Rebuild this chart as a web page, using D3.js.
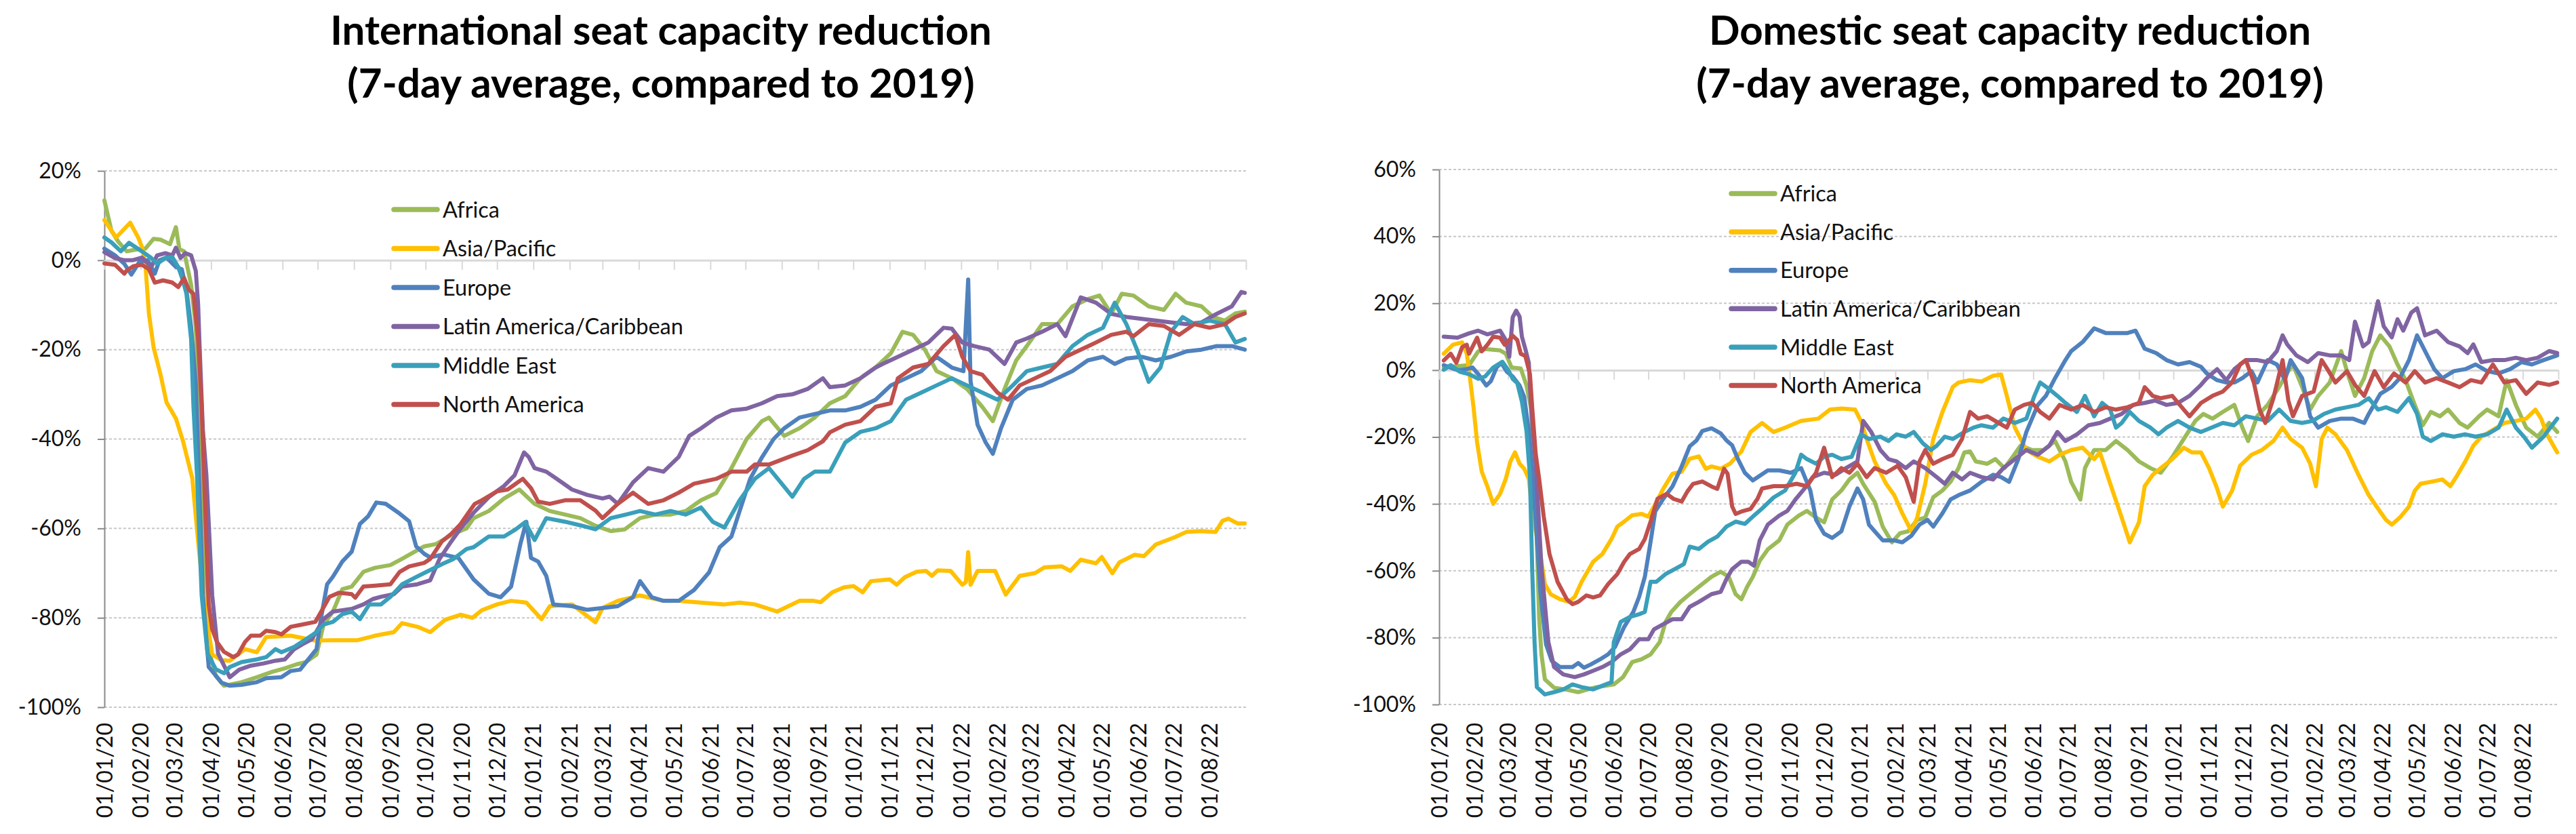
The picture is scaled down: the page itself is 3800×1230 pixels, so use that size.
<!DOCTYPE html>
<html>
<head>
<meta charset="utf-8">
<script src="https://cdn.jsdelivr.net/npm/d3@7"></script>
<style>
  html, body { margin: 0; padding: 0; background: #ffffff; }
  svg { display: block; }
</style>
</head>
<body>
<svg id="chart" width="3800" height="1230"></svg>
<script>
// ---------------- DATA ----------------
// Series are [days since 01/01/2020, % change vs 2019 (7-day average)]
const regions = ["Africa", "Asia/Pacific", "Europe", "Latin America/Caribbean", "Middle East", "North America"];
const regionColors = ["#9BBB59", "#FFC000", "#4F81BD", "#8064A2", "#3A9FBA", "#C0504D"];

const titleIntl = ["International seat capacity reduction", "(7-day average, compared to 2019)"];
const titleDom = ["Domestic seat capacity reduction", "(7-day average, compared to 2019)"];

const yTicksIntl = [20, 0, -20, -40, -60, -80, -100];
const yTicksDom = [60, 40, 20, 0, -20, -40, -60, -80, -100];

const axisStart = "2020-01-01";
const axisEnd = "2022-09-01";
const tickLabelFormat = "%d/%m/%y";

const intlAfrica = [[0,13.4],[6,6.6],[12,4.1],[19,2],[27,2.4],[35,2.6],[42,4.8],[48,4.6],[56,3.6],[61,7.4],[64,2.5],[68,2],[74,-5.5],[78,-15],[82,-40],[86,-70],[90,-88],[95,-93],[102,-95.2],[117,-94.4],[130,-93.3],[143,-92.1],[154,-91.3],[164,-90.4],[172,-89.9],[181,-88.2],[187,-81.5],[195,-78.6],[203,-73.6],[211,-73],[221,-69.7],[231,-68.8],[244,-68.2],[254,-66.8],[273,-64],[283,-63.5],[298,-61.2],[309,-60],[315,-57.7],[328,-56.1],[341,-53.3],[354,-51.3],[367,-54.5],[380,-56.1],[393,-56.9],[406,-57.7],[419,-59.4],[432,-60.6],[444,-60.2],[457,-57.7],[470,-56.9],[483,-56.9],[496,-56.1],[509,-53.7],[522,-52.1],[535,-46.5],[548,-40],[561,-36],[567,-35.2],[580,-39.3],[593,-37.6],[606,-35.2],[619,-32],[632,-30.4],[645,-26.4],[658,-24],[671,-20.8],[681,-16],[690,-16.7],[700,-20],[710,-24.8],[723,-26.4],[736,-28.8],[749,-32.8],[758,-36],[768,-28.8],[778,-22.4],[787,-19.2],[800,-14.3],[813,-14.3],[826,-10.3],[839,-8.7],[849,-7.9],[859,-12],[868,-7.5],[878,-7.9],[891,-10.3],[904,-11.1],[914,-7.5],[923,-9.5],[936,-10.3],[946,-12.7],[956,-13.5],[965,-11.9],[973,-11.5]];
const intlAsia = [[0,9],[10,5.1],[22,8.4],[29,5],[32,3],[35,-1],[38,-12],[42,-19.5],[48,-25.7],[53,-31.8],[61,-35.4],[67,-40.4],[75,-48.8],[81,-65.7],[87,-79.7],[92,-88.2],[100,-89.5],[107,-89.6],[120,-87],[130,-87.7],[138,-84.3],[159,-84],[180,-85.1],[195,-85],[216,-85],[231,-84],[247,-83.2],[254,-81.2],[267,-82],[278,-83.2],[291,-80.4],[304,-79.3],[314,-80],[322,-78.3],[335,-77],[347,-76.2],[360,-76.6],[373,-80.3],[380,-77.4],[399,-77],[419,-81],[425,-77.8],[438,-76.2],[457,-75],[477,-76.2],[490,-76.2],[509,-76.6],[529,-77],[542,-76.6],[555,-77],[574,-78.6],[593,-76.2],[605,-76.2],[611,-76.5],[621,-74.3],[631,-73.2],[639,-72.9],[647,-74.3],[654,-71.8],[670,-71.4],[676,-72.6],[683,-70.9],[693,-69.7],[701,-69.5],[706,-70.6],[711,-69.4],[722,-69.5],[732,-72.6],[735,-72],[737,-65.3],[739,-72.6],[745,-69.5],[760,-69.5],[769,-74.8],[781,-70.6],[794,-70],[802,-68.7],[817,-68.5],[824,-69.5],[833,-67],[846,-67.8],[851,-66.4],[860,-70],[866,-67.6],[879,-65.9],[887,-66.2],[897,-63.6],[913,-62],[923,-60.8],[936,-60.6],[948,-60.8],[954,-58.3],[959,-57.8],[967,-58.9],[973,-58.9]];
const intlEurope = [[0,2.6],[9,1.1],[17,-0.8],[23,-3.2],[30,-0.3],[37,0],[43,-3],[47,0],[53,0.6],[61,-1.5],[66,-2],[70,-6.6],[74,-15],[78,-27.8],[80,-43],[84,-75],[89,-91],[100,-94.5],[107,-95.2],[117,-95],[130,-94.4],[138,-93.5],[151,-93.3],[159,-91.9],[167,-91.6],[174,-89.3],[181,-87],[185,-79.8],[190,-72.5],[195,-70.8],[203,-67.4],[211,-65.2],[218,-59],[225,-57.3],[232,-54.2],[240,-54.5],[252,-56.7],[260,-58.4],[266,-64],[273,-65.7],[278,-66.5],[289,-65.8],[302,-66.6],[315,-71.4],[328,-74.6],[338,-75.4],[347,-73],[355,-63.4],[360,-58.5],[364,-66.6],[370,-67.4],[377,-70.6],[383,-77],[399,-77.4],[412,-78.2],[425,-77.8],[438,-77.4],[451,-75.4],[457,-71.8],[467,-75.4],[477,-76.2],[490,-76.2],[503,-73.8],[516,-69.8],[525,-64.2],[535,-61.8],[542,-56.1],[551,-48.9],[561,-44.1],[571,-40],[580,-37.6],[593,-35.2],[606,-34.4],[619,-33.6],[632,-33.6],[645,-32.8],[658,-31.2],[671,-28],[684,-26.4],[697,-24.8],[710,-21.6],[723,-24],[733,-24.8],[737,-4.3],[739,-27],[745,-36.8],[752,-40.8],[758,-43.3],[765,-37.6],[775,-31.2],[787,-28.8],[800,-28],[813,-26.4],[826,-24.8],[839,-22.4],[852,-21.6],[862,-23.2],[872,-22],[885,-21.6],[897,-22.4],[910,-21.6],[923,-20.4],[936,-20],[949,-19.2],[962,-19.2],[973,-20]];
const intlLatam = [[0,1.8],[9,0.5],[17,0],[24,0],[32,0.6],[40,-1.5],[45,1.1],[52,1.6],[58,1.1],[61,2.8],[65,0.5],[69,1.6],[74,1.1],[78,-2.4],[80,-10],[81,-17.7],[84,-37.9],[87,-48],[92,-75],[97,-88],[107,-93.3],[115,-91.6],[125,-90.7],[136,-90.2],[146,-89.6],[154,-89.3],[162,-87],[169,-85.9],[177,-84.8],[187,-80.3],[195,-78.6],[211,-78],[221,-77],[229,-75.8],[236,-75.3],[247,-74.7],[254,-73],[267,-72.5],[278,-71.6],[286,-66.8],[296,-62.9],[304,-60],[315,-56.5],[328,-53],[341,-50.5],[350,-48.1],[358,-43],[362,-44],[367,-46.5],[377,-47.3],[386,-48.9],[399,-51.3],[412,-52.5],[425,-53.3],[431,-52.9],[438,-54.5],[451,-49.7],[464,-46.5],[477,-47.3],[490,-44],[499,-39.3],[509,-37.6],[522,-35.2],[535,-33.6],[548,-33.2],[561,-32],[574,-30.4],[587,-30],[600,-28.8],[613,-26.4],[619,-28.4],[632,-28],[645,-26.4],[658,-24],[664,-23.2],[677,-21.6],[690,-20],[703,-18.4],[716,-15.1],[723,-15.3],[732,-18.4],[742,-19.2],[755,-20],[768,-23.2],[778,-18.4],[787,-17.5],[800,-16],[813,-14.3],[820,-17],[833,-8.3],[846,-9.5],[859,-12],[872,-12.7],[885,-13.1],[897,-13.5],[910,-13.9],[923,-14.3],[936,-13.9],[949,-12],[962,-10.3],[970,-7.1],[973,-7.3]];
const intlMiddleEast = [[0,5.1],[6,4],[14,2],[21,3.9],[32,2],[40,0.5],[45,-0.8],[52,0.5],[58,0.7],[63,-1.5],[67,-4.5],[70,-7.5],[74,-17.7],[76,-32.8],[79,-48],[83,-75],[88,-88],[95,-91.5],[102,-92.4],[107,-91],[117,-89.9],[130,-89.3],[138,-88.8],[146,-87],[151,-87.7],[162,-86.5],[172,-84.8],[180,-83.4],[187,-81.5],[195,-80.9],[203,-79.2],[211,-78.6],[218,-80.3],[226,-77],[236,-77],[244,-75.3],[254,-72.5],[265,-71],[275,-69.7],[288,-68],[298,-66.8],[309,-64.6],[315,-64.2],[328,-61.8],[341,-61.8],[351,-60.2],[359,-58.6],[367,-62.6],[377,-57.7],[393,-58.5],[406,-59.3],[419,-60.2],[432,-57.7],[445,-56.9],[457,-56.1],[470,-56.9],[483,-56.1],[496,-56.9],[509,-55.3],[519,-58.5],[529,-59.8],[542,-53.7],[555,-48.9],[567,-46.5],[577,-49.7],[587,-52.9],[597,-48.9],[606,-47.3],[619,-47.3],[632,-40.8],[645,-38.4],[658,-37.6],[671,-36],[684,-31.2],[697,-29.6],[710,-28],[723,-26.4],[736,-28],[749,-29.6],[762,-31.2],[775,-28],[787,-24.8],[800,-24],[813,-23.2],[826,-19.2],[839,-16.7],[852,-15.1],[862,-9.5],[872,-14.3],[881,-20],[891,-27.2],[901,-24],[910,-16],[920,-12.7],[930,-14.3],[943,-13.5],[956,-14.3],[965,-18.4],[973,-17.6]];
const intlNorthAmerica = [[0,-0.7],[9,-1],[17,-3],[19,-2.3],[25,-1.3],[32,-1],[38,-2],[43,-5],[50,-4.5],[58,-5],[63,-6],[68,-4],[72,-6.6],[76,-7.5],[80,-17.7],[83,-32.8],[85,-48],[87,-62.9],[89,-77],[92,-82.6],[96,-85.4],[102,-87.6],[110,-88.8],[114,-88.2],[120,-85.4],[125,-84],[133,-84],[138,-82.9],[146,-83.2],[151,-83.7],[159,-82],[169,-81.5],[180,-80.9],[185,-78.6],[192,-75.3],[200,-74.4],[211,-74.7],[214,-75.5],[221,-73],[231,-72.8],[244,-72.5],[252,-69.7],[260,-68.5],[273,-67.7],[278,-66.8],[288,-62.9],[296,-61.2],[304,-59],[310,-56.7],[316,-54.5],[322,-53.7],[335,-51.7],[344,-51.3],[357,-48.9],[364,-51],[370,-54],[380,-54.5],[393,-53.7],[406,-53.7],[419,-56],[425,-57.7],[438,-54.5],[451,-52],[464,-54.5],[477,-53.7],[490,-52],[503,-50],[522,-48.9],[535,-47.3],[548,-47.3],[555,-45.7],[567,-45.7],[587,-43.7],[600,-42.5],[613,-40.5],[619,-38.5],[632,-36.8],[645,-36],[658,-32.8],[671,-32],[677,-26.4],[690,-24],[703,-23.2],[716,-19.2],[726,-16.7],[732,-21.6],[739,-24.8],[749,-25.6],[762,-29.6],[771,-31.2],[781,-28],[794,-26.4],[807,-24.8],[820,-21.6],[833,-20],[846,-18.4],[859,-16.7],[872,-16],[878,-17],[891,-14.3],[904,-14.7],[917,-16.7],[930,-14.3],[943,-15.1],[956,-14.3],[965,-12.7],[973,-11.9]];

const domAfrica = [[4,0.8],[26,1.5],[34,5.6],[40,6.3],[53,5.9],[58,4.9],[63,0.8],[71,0.5],[76,-4.6],[80,-11.4],[84,-40],[87,-74],[89,-85],[92,-92.5],[100,-95],[110,-95.5],[121,-96.3],[129,-95.5],[137,-94.8],[145,-94.4],[152,-94],[160,-91.8],[168,-87.3],[176,-86.5],[184,-85],[192,-81.3],[197,-75.3],[202,-72.3],[210,-69.3],[218,-67],[226,-64.8],[237,-61.8],[245,-60.3],[252,-61.8],[258,-67],[263,-68.5],[268,-64.8],[273,-61.8],[279,-57],[286,-53.6],[296,-50.9],[303,-46.2],[313,-43.5],[320,-42.1],[328,-44.1],[335,-45.5],[342,-38.7],[350,-36],[357,-32.7],[364,-30.7],[369,-34],[379,-39.4],[386,-46.8],[394,-51.5],[401,-48.8],[408,-48.2],[416,-44.8],[423,-44.1],[430,-38],[438,-36],[445,-33.4],[452,-29.3],[457,-24.6],[462,-24.3],[467,-27.3],[477,-28],[484,-26.6],[492,-29.3],[499,-26],[506,-22.6],[516,-23.9],[526,-23.9],[536,-21.2],[545,-27.3],[550,-33.4],[558,-38.7],[562,-29.3],[570,-23.9],[580,-23.9],[589,-21.2],[599,-23.9],[609,-27.3],[619,-29.3],[628,-30.7],[638,-26],[648,-20.6],[658,-15.2],[665,-13.1],[673,-14.5],[682,-12.5],[692,-10.4],[699,-17.2],[704,-21.2],[712,-13.7],[721,-10.4],[731,-5],[739,-0.3],[743,1.7],[751,-5],[758,-11.8],[765,-7.7],[775,-3.7],[785,5.7],[790,-0.3],[797,-7.7],[805,-2.4],[812,5.7],[819,10.4],[827,7.1],[834,1.7],[841,-3],[849,-10.4],[856,-16.5],[863,-12.5],[871,-13.8],[878,-11.8],[888,-15.8],[895,-17.2],[905,-13.8],[912,-11.8],[922,-13.8],[929,-3],[937,-10.4],[946,-17.2],[956,-19.9],[966,-15.8],[973,-18.5]];
const domAsia = [[4,4.9],[12,7.6],[20,8.3],[24,4.9],[26,0],[30,-11.4],[33,-21.6],[37,-30.3],[42,-34.8],[47,-40],[53,-37],[58,-32.5],[62,-27.3],[66,-24.6],[70,-28],[74,-29.5],[78,-32.5],[82,-45],[87,-52.8],[92,-64],[97,-67],[105,-68.5],[113,-69.3],[118,-67.8],[124,-63.3],[129,-60.3],[134,-57.3],[142,-55],[150,-50.5],[155,-46.8],[161,-45.3],[168,-43.4],[176,-43],[182,-43.8],[187,-40.8],[195,-35.5],[203,-31],[211,-30.4],[218,-26.5],[226,-25.8],[232,-29.5],[237,-28.8],[245,-29.5],[253,-28],[263,-24.3],[271,-18.5],[281,-15.8],[291,-18.5],[301,-17.2],[315,-15.2],[330,-14.5],[340,-11.8],[350,-11.5],[362,-11.8],[367,-15.2],[372,-20.6],[379,-27.3],[389,-34],[396,-37.4],[403,-42.8],[411,-48.2],[416,-44.1],[423,-34],[430,-20.6],[438,-12.5],[447,-5],[452,-3.7],[462,-3],[472,-3.4],[482,-1.7],[489,-1.3],[494,-7.7],[501,-17.2],[511,-23.9],[521,-25.9],[531,-27.3],[540,-25.3],[550,-23.9],[560,-23.2],[570,-26.6],[575,-24.6],[584,-34],[594,-44.1],[601,-51.5],[609,-45.5],[614,-34.7],[621,-31.3],[628,-29.3],[638,-26.6],[648,-23.2],[655,-24.6],[663,-24.6],[670,-29.3],[677,-35.4],[682,-40.8],[690,-36.1],[697,-28.6],[707,-25.3],[716,-23.9],[726,-21.2],[734,-17.2],[741,-20.6],[751,-23.2],[758,-28],[763,-34.7],[768,-20.6],[773,-17.2],[780,-19.2],[790,-23.9],[800,-31.3],[809,-37.4],[817,-41.4],[824,-44.8],[829,-46.2],[836,-44.1],[844,-40.8],[849,-36.1],[854,-34],[863,-33.4],[873,-32.7],[880,-34.7],[885,-32],[893,-27.3],[900,-22.6],[907,-19.9],[917,-17.9],[927,-15.8],[937,-15.2],[946,-14.5],[954,-11.8],[959,-14.5],[964,-19.2],[973,-24.6]];
const domEurope = [[4,1.5],[16,0],[24,0.3],[29,0.8],[34,-1.2],[41,-4.6],[45,-3.3],[50,0.8],[54,2.2],[59,-0.5],[64,-1.9],[70,-4.6],[74,-8],[78,-18.2],[81,-30],[84,-45],[88,-66],[93,-82],[98,-87],[105,-88.8],[116,-88.8],[121,-87.6],[126,-89],[132,-88],[140,-86.5],[147,-85],[153,-82.8],[161,-76.8],[169,-72.3],[174,-67.8],[179,-61.8],[184,-51.3],[188,-42.3],[195,-38.5],[203,-34.8],[211,-28.8],[218,-22.8],[224,-21],[229,-18.2],[237,-17.4],[245,-18.9],[250,-21],[255,-22.5],[260,-26.6],[266,-30.7],[273,-33],[286,-30],[296,-30],[306,-30.7],[315,-29.3],[323,-36],[328,-44.8],[335,-48.9],[342,-50.2],[350,-48.2],[357,-40.8],[364,-35.4],[369,-38.7],[374,-46.2],[379,-48.2],[386,-50.9],[396,-50.9],[403,-51.5],[411,-49.5],[418,-46.2],[425,-44.8],[430,-46.8],[438,-42.8],[445,-38.7],[452,-37.4],[462,-36],[472,-33.4],[482,-31.3],[489,-32],[496,-33.4],[504,-26.6],[511,-18.5],[521,-10.4],[528,-7.7],[536,-2.4],[545,3],[550,5.7],[560,8.4],[570,12.5],[580,11.1],[589,11.1],[599,11.1],[606,11.8],[614,6.4],[624,5.1],[633,3],[643,1.7],[653,2.4],[663,1],[668,-1],[677,-3],[685,-3.7],[692,-3.7],[699,-2.4],[707,-0.3],[712,-3.7],[721,3],[729,1.7],[736,-3],[741,3],[751,-2.4],[758,-13.8],[765,-17.2],[775,-15.2],[785,-14.5],[795,-14.5],[805,-15.8],[809,-13.1],[819,-7.1],[829,-5],[836,-2.4],[844,3],[851,10.4],[858,5.7],[866,0.3],[873,-2.4],[883,-0.3],[893,0.3],[902,1.7],[912,-0.3],[922,-1],[932,0.3],[942,2.4],[951,1.7],[961,3],[973,4.4]];
const domLatam = [[4,10],[16,9.7],[26,11],[34,11.8],[42,10.7],[53,11.8],[58,9],[61,4],[64,15.8],[67,17.8],[70,16],[72,10],[75,6.3],[78,2.2],[80,-11.4],[84,-28],[89,-58.8],[95,-81.3],[100,-88.8],[108,-91],[118,-91.8],[126,-91],[134,-89.9],[142,-88.8],[150,-87.3],[158,-85],[166,-83.5],[174,-80.5],[182,-80.5],[187,-77.5],[195,-76],[203,-74.5],[211,-74.5],[218,-70.8],[226,-69.3],[237,-67],[245,-66.3],[250,-62.5],[255,-59.5],[263,-57.3],[269,-57.3],[274,-58.5],[279,-50.9],[286,-46.2],[296,-43.5],[303,-42.1],[310,-38.7],[318,-35.4],[325,-32],[335,-30.7],[345,-31.3],[354,-29.3],[364,-27.3],[369,-15.2],[376,-18.5],[384,-23.9],[391,-26.6],[398,-27.3],[406,-29.3],[413,-27.3],[423,-29.3],[433,-32],[440,-34],[447,-30.7],[455,-32.7],[462,-30.7],[472,-32],[482,-32.7],[491,-29.3],[501,-26.6],[511,-23.9],[521,-25.3],[531,-22.6],[538,-18.5],[545,-21.2],[555,-19.2],[565,-16.5],[575,-15.8],[584,-14.5],[594,-13.1],[604,-10.4],[614,-9.8],[623,-9.1],[633,-10.4],[643,-9.8],[653,-7.7],[663,-4.4],[668,-2.4],[677,0.3],[685,-3],[692,0.3],[702,3],[712,3],[721,2.4],[729,5.7],[734,10.4],[738,7.7],[746,4.4],[756,2.4],[765,5.1],[775,4.4],[785,4.4],[792,3],[797,14.5],[804,7.1],[809,8.4],[817,20.6],[822,13.1],[829,9.8],[834,15.2],[839,11.8],[846,17.2],[851,18.5],[858,10.4],[868,11.8],[878,8.4],[888,7.1],[895,5.1],[900,7.7],[907,2.4],[917,3],[927,3],[937,3.7],[946,3],[956,3.7],[966,5.7],[973,5.1]];
const domMiddleEast = [[4,0.1],[10,1.5],[18,-0.5],[26,-1.2],[34,-2.6],[40,-1.9],[47,0.8],[55,2.5],[60,0.1],[64,-2.6],[68,-3.9],[72,-9.4],[76,-18.2],[79,-31.8],[81,-60],[83,-81.3],[85,-94.8],[92,-97],[100,-96.3],[108,-95.5],[116,-94],[124,-94.8],[134,-95.5],[142,-94.4],[150,-93.3],[152,-81.3],[158,-75.3],[166,-73.8],[174,-73],[179,-72.3],[184,-63.3],[189,-63.3],[197,-61],[205,-59.5],[213,-58],[218,-52.8],[226,-53.5],[234,-51.3],[242,-49.8],[250,-46.8],[258,-45.3],[266,-46],[273,-43.8],[281,-41.4],[291,-38.1],[301,-36],[310,-30.7],[315,-25.3],[320,-26.6],[328,-28],[335,-25.9],[342,-25.3],[350,-26.6],[359,-25.9],[367,-19.2],[374,-20.6],[384,-19.9],[391,-21.2],[398,-19.2],[406,-19.9],[413,-18.5],[421,-21.9],[428,-23.9],[433,-22.6],[440,-19.9],[447,-20.6],[457,-18.5],[465,-17.2],[472,-16.5],[482,-17.2],[491,-14.5],[501,-15.8],[511,-14.5],[518,-7.7],[523,-3.7],[531,-5.7],[538,-7.7],[545,-9.8],[555,-12.5],[562,-7.7],[570,-13.8],[577,-9.8],[584,-11.8],[589,-17.2],[594,-15.8],[601,-12.5],[609,-15.2],[619,-17.2],[626,-19.2],[633,-17.2],[643,-15.2],[653,-17.2],[663,-18.5],[672,-17.2],[682,-15.8],[692,-16.5],[702,-13.8],[712,-14.5],[721,-15.2],[731,-11.8],[741,-15.2],[751,-15.8],[760,-15.2],[770,-13.1],[780,-11.8],[790,-11.1],[800,-10.4],[809,-8.4],[817,-11.8],[824,-11.1],[834,-12.5],[844,-8.4],[851,-13.1],[856,-19.9],[863,-21.2],[873,-19.2],[883,-19.9],[893,-19.2],[902,-19.9],[912,-19.2],[922,-17.2],[929,-11.8],[937,-17.2],[944,-19.9],[951,-23.2],[961,-19.9],[973,-14.5]];
const domNorthAmerica = [[4,2.9],[10,4.9],[15,2.2],[20,6.9],[24,7.6],[26,4.9],[33,9.7],[37,5.6],[42,7.6],[47,10],[53,9.7],[57,7.6],[61,9],[64,10.3],[68,9],[71,4.9],[75,4.2],[79,-1.2],[81,-11.4],[84,-25],[87,-32.5],[91,-43.8],[96,-55],[103,-63.3],[111,-68.5],[116,-70],[121,-69.3],[128,-67.4],[134,-68],[140,-67.4],[147,-64],[155,-61],[161,-57.3],[166,-55],[174,-53.5],[179,-50.5],[184,-45.3],[190,-38.5],[198,-37],[204,-38.5],[211,-39.3],[216,-36.3],[221,-34],[229,-33.3],[237,-34.8],[242,-35.5],[248,-29.5],[251,-31],[255,-40.8],[258,-43],[263,-42.3],[271,-41.5],[277,-38.5],[281,-35.4],[291,-34.7],[301,-34.7],[311,-34],[320,-34.7],[328,-30.7],[335,-23.2],[342,-32],[350,-29.3],[357,-30.7],[364,-28],[372,-32],[379,-29.3],[389,-30.7],[399,-28.6],[406,-32],[413,-39.4],[418,-27.3],[423,-23.9],[430,-28],[438,-26.6],[447,-25.3],[455,-20.6],[462,-12.5],[469,-14.5],[477,-13.8],[487,-15.8],[494,-17.2],[501,-11.8],[509,-10.4],[516,-9.8],[523,-12.5],[531,-14.5],[540,-10.4],[550,-11.8],[560,-10.4],[570,-12.5],[580,-11.1],[589,-11.8],[599,-11.1],[609,-9.8],[614,-5.1],[621,-7.7],[628,-8.4],[638,-7.7],[648,-11.8],[653,-13.8],[663,-9.8],[673,-7.7],[682,-6.4],[690,-3.7],[697,1.7],[702,3],[709,-3.7],[714,-11.8],[719,-15.8],[726,-8.4],[734,3],[739,-9.1],[743,-13.8],[751,-7.7],[761,-6.4],[768,3],[773,0.3],[780,-3.7],[790,-0.3],[797,-4.4],[805,-7.7],[814,-0.3],[822,-5.1],[831,-1],[841,-3.7],[849,-0.3],[858,-3.7],[868,-2.4],[878,-3.7],[888,-5.1],[898,-3],[907,-3.7],[917,1.7],[927,-3.7],[937,-3],[946,-7.1],[956,-3.7],[966,-4.4],[973,-3.7]];

const intlSeries = [intlAfrica, intlAsia, intlEurope, intlLatam, intlMiddleEast, intlNorthAmerica];
const domSeries = [domAfrica, domAsia, domEurope, domLatam, domMiddleEast, domNorthAmerica];

// ---------------- DRAWING ----------------
const FONT = "Lato, 'Open Sans', sans-serif";
const parse = d3.timeParse("%Y-%m-%d");
const START = parse(axisStart), END = parse(axisEnd);
const toDate = d => d3.timeDay.offset(START, d);
const tickDates = d3.timeMonth.range(START, d3.timeMonth.offset(END, 1));
const labelDates = d3.timeMonth.range(START, END);
const fmt = d3.timeFormat(tickLabelFormat);

const svg = d3.select("#chart");
svg.append("rect").attr("width", 3800).attr("height", 1230).attr("fill", "#fff");

function drawPanel(cfg) {
  const { x, y, yTicks, series, legend, title, titleX } = cfg;
  const [x0, x1] = x.range();
  const g = svg.append("g");

  // Title
  title.forEach((t, i) => {
    g.append("text").attr("x", titleX).attr("y", 66 + i * 78).attr("text-anchor", "middle")
      .attr("font-family", FONT).attr("font-weight", 700).attr("font-size", 60).attr("fill", "#000")
      .text(t);
  });

  // Gridlines (dotted)
  g.append("g").selectAll("line").data(yTicks.filter(v => v !== 0)).join("line")
    .attr("x1", x0).attr("x2", x1)
    .attr("y1", d => y(d)).attr("y2", d => y(d))
    .attr("stroke", "#c8c8c8").attr("stroke-width", 2).attr("stroke-dasharray", "4 3");

  // Y axis
  const ya = g.append("g").attr("transform", `translate(${x0},0)`)
    .call(d3.axisLeft(y).tickValues(yTicks).tickFormat(d => d + "%").tickSize(10).tickSizeOuter(0).tickPadding(24));
  ya.attr("font-family", FONT).attr("font-size", 32);
  ya.select(".domain").attr("stroke", "#8a8a8a").attr("stroke-width", 2);
  ya.selectAll(".tick line").attr("stroke", "#8a8a8a").attr("stroke-width", 2);
  ya.selectAll(".tick text").attr("fill", "#111");

  // Horizontal axis line at 0% with month ticks
  const xa = g.append("g").attr("transform", `translate(0,${y(0)})`)
    .call(d3.axisBottom(x).tickValues(tickDates).tickFormat("").tickSize(14).tickSizeOuter(0));
  xa.select(".domain").attr("stroke", "#d9d9d9").attr("stroke-width", 3);
  xa.selectAll(".tick line").attr("stroke", "#d9d9d9").attr("stroke-width", 2);

  // Date labels at the bottom (rotated)
  const xl = g.append("g").attr("transform", `translate(0,1066)`)
    .call(d3.axisBottom(x).tickValues(labelDates).tickFormat(fmt).tickSize(0).tickSizeOuter(0));
  xl.attr("font-family", FONT).attr("font-size", 32);
  xl.select(".domain").remove();
  xl.selectAll(".tick text")
    .attr("x", 0).attr("y", 0).attr("dy", "0.35em")
    .attr("transform", "rotate(-90)").attr("text-anchor", "end").attr("fill", "#111");

  // Series lines
  const line = d3.line().x(d => x(toDate(d[0]))).y(d => y(d[1]));
  g.append("g").selectAll("path").data(series).join("path")
    .attr("d", d => line(d))
    .attr("fill", "none")
    .attr("stroke", (d, i) => regionColors[i])
    .attr("stroke-width", 6)
    .attr("stroke-linejoin", "round")
    .attr("stroke-linecap", "round");

  // Legend
  const lg = g.append("g").selectAll("g").data(regions).join("g")
    .attr("transform", (d, i) => `translate(${legend.x},${legend.y0 + i * legend.step})`);
  lg.append("line").attr("x1", 4).attr("x2", 68).attr("y1", 0).attr("y2", 0)
    .attr("stroke", (d, i) => regionColors[i]).attr("stroke-width", 7.5).attr("stroke-linecap", "round");
  lg.append("text").attr("x", 76).attr("y", 0).attr("dy", "0.36em")
    .attr("font-family", FONT).attr("font-size", 32.5).attr("fill", "#111")
    .text(d => d);
}

drawPanel({
  x: d3.scaleTime().domain([START, END]).range([154, 1838]),
  y: d3.scaleLinear().domain([-100, 20]).range([1043, 252]),
  yTicks: yTicksIntl,
  series: intlSeries,
  legend: { x: 577, y0: 309, step: 57.5 },
  title: titleIntl,
  titleX: 975
});

drawPanel({
  x: d3.scaleTime().domain([START, END]).range([2123, 3774]),
  y: d3.scaleLinear().domain([-100, 60]).range([1039, 250]),
  yTicks: yTicksDom,
  series: domSeries,
  legend: { x: 2550, y0: 285.5, step: 56.6 },
  title: titleDom,
  titleX: 2965
});
</script>
</body>
</html>
